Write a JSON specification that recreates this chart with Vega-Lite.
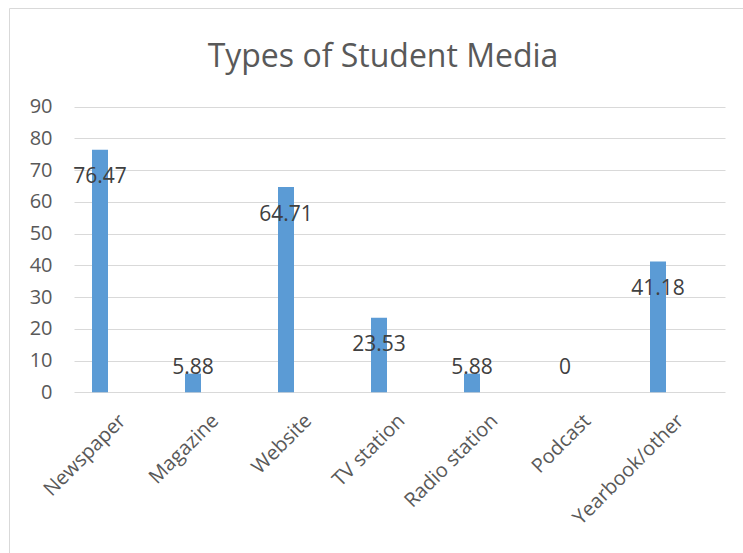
{
  "$schema": "https://vega.github.io/schema/vega-lite/v6.json",
  "width": 748,
  "height": 560,
  "autosize": {"type": "none"},
  "padding": {"left": 9, "top": 8, "right": 0, "bottom": 0},
  "background": "white",
  "config": {"view": {"stroke": "#d9d9d9", "strokeWidth": 1}, "font": "Open Sans"},
  "title": {"text": "Types of Student Media", "anchor": "middle", "frame": "group", "offset": -58, "dy": 33, "baseline": "alphabetic", "fontSize": 32, "font": "Open Sans", "fontWeight": "normal", "color": "#595959"},
  "data": {"values": [
    {"media": "Newspaper", "value": 76.47},
    {"media": "Magazine", "value": 5.88},
    {"media": "Website", "value": 64.71},
    {"media": "TV station", "value": 23.53},
    {"media": "Radio station", "value": 5.88},
    {"media": "Podcast", "value": 0},
    {"media": "Yearbook/other", "value": 41.18}
  ]},
  "encoding": {
    "x": {"field": "media", "type": "nominal", "sort": null,
      "scale": {"range": [65, 716], "paddingInner": 0, "paddingOuter": 0},
      "axis": {"title": null, "orient": "bottom", "offset": -175.7, "domain": false, "ticks": false, "grid": false, "labelAngle": -45, "labelAlign": "right", "labelBaseline": "top", "labelPadding": 18, "labelOffset": -5, "labelFontSize": 20, "labelColor": "#595959", "labelFont": "Open Sans", "labelOverlap": false}},
    "y": {"field": "value", "type": "quantitative",
      "scale": {"domain": [0, 90], "range": [384.3, 98.7], "nice": false, "zero": true},
      "axis": {"title": null, "orient": "left", "offset": -65, "domain": false, "ticks": false, "labelPadding": 22, "values": [0, 10, 20, 30, 40, 50, 60, 70, 80, 90], "grid": true, "gridColor": "#d9d9d9", "gridWidth": 1, "labelFontSize": 20, "labelColor": "#595959", "labelFont": "Open Sans"}}
  },
  "layer": [
    {"mark": {"type": "bar", "color": "#5b9bd5", "width": 16, "xOffset": -20.5}},
    {"transform": [{"filter": "datum.value > 15"}],
     "mark": {"type": "text", "xOffset": -20.5, "dy": 27.7, "baseline": "middle", "fontSize": 21, "color": "#404040", "font": "Open Sans"},
     "encoding": {"text": {"field": "value", "type": "quantitative"}}},
    {"transform": [{"filter": "datum.value <= 15"}],
     "mark": {"type": "text", "xOffset": -20.5, "baseline": "middle", "fontSize": 21, "color": "#404040", "font": "Open Sans"},
     "encoding": {"y": {"datum": 7.8, "type": "quantitative"}, "text": {"field": "value", "type": "quantitative"}}}
  ]
}
